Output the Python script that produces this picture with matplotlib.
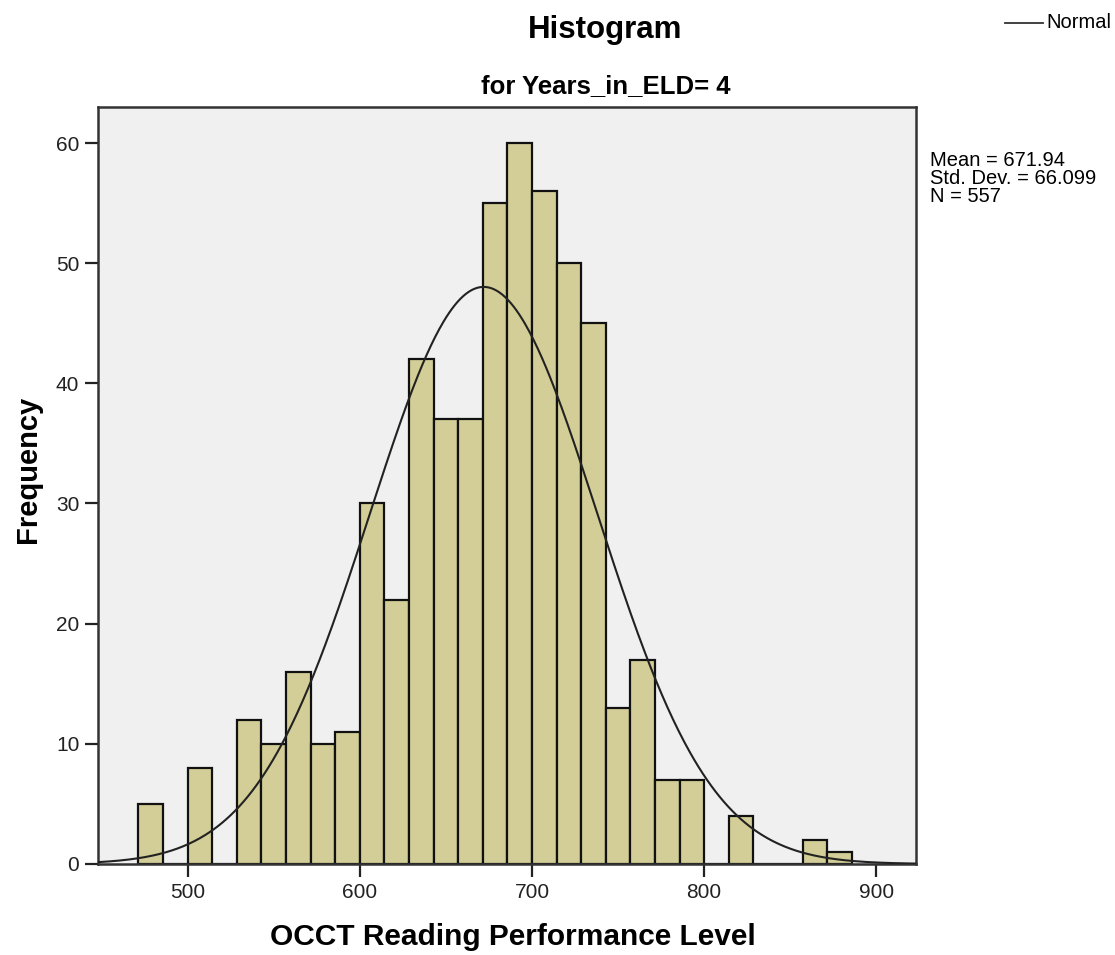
import numpy as np
import matplotlib; matplotlib.use("Agg"); import matplotlib.pyplot as plt

# ---- data ----
bin_start = 471.43          # left edge of first bin
bin_width = 100 / 7         # SPSS bin width (~14.29)
counts = [5, 0, 8, 0, 12, 10, 16, 10, 11, 30, 22, 42, 37, 37, 55, 60, 56, 50,
          45, 13, 17, 7, 7, 0, 4, 0, 0, 2, 1]
mean, sd, n = 671.94, 66.099, 557
xticks = [500, 600, 700, 800, 900]
yticks = [0, 10, 20, 30, 40, 50, 60]

plt.rcParams["font.family"] = ["Liberation Sans", "DejaVu Sans"]
fig = plt.figure(figsize=(11.15, 9.55), dpi=100)
ax = fig.add_axes([0.0879, 0.0953, 0.7336, 0.7927])
ax.set_facecolor("#f0f0f0")

lefts = bin_start + bin_width * np.arange(len(counts))
ax.bar(lefts, counts, width=bin_width, align="edge", color="#d3ce97",
       edgecolor="#111111", linewidth=1.6, zorder=2)

xs = np.linspace(440, 930, 600)
ax.plot(xs, n * bin_width / (sd * np.sqrt(2 * np.pi)) * np.exp(-0.5 * ((xs - mean) / sd) ** 2),
        color="#222222", lw=1.5, zorder=3)

ax.set_xlim(448, 923); ax.set_ylim(0, 63)
ax.set_xticks(xticks); ax.set_yticks(yticks)
ax.tick_params(length=9.5, width=1.6, labelsize=15, color="#222222", pad=4, labelcolor="#222222")
for s in ax.spines.values(): s.set_linewidth(1.8); s.set_color("#333333")

fig.text(0.543, 0.960, "Histogram", ha="center", va="baseline", fontsize=22.5, fontweight="bold")
fig.text(0.543, 0.903, "for Years_in_ELD= 4", ha="center", va="baseline", fontsize=18.5, fontweight="bold")
fig.text(0.460, 0.010, "OCCT Reading Performance Level", ha="center", va="baseline", fontsize=21.5, fontweight="bold")
fig.text(0.025, 0.509, "Frequency", ha="center", va="center", rotation=90, fontsize=21, fontweight="bold")

# legend + stats box, SPSS style
fig.add_artist(plt.Line2D([1005 / 1115, 1043 / 1115], [1 - 23 / 955] * 2, color="#333333", lw=1.3))
fig.text(1046 / 1115, 1 - 23 / 955, "Normal", ha="left", va="center", fontsize=14.5)
for i, s in enumerate([f"Mean = {mean:.2f}", f"Std. Dev. = {sd:.3f}", f"N = {n}"]):
    fig.text(930 / 1115, 1 - (161 + 18 * i) / 955, s, ha="left", va="center", fontsize=14.5)

fig.savefig("out.png", dpi=100)
